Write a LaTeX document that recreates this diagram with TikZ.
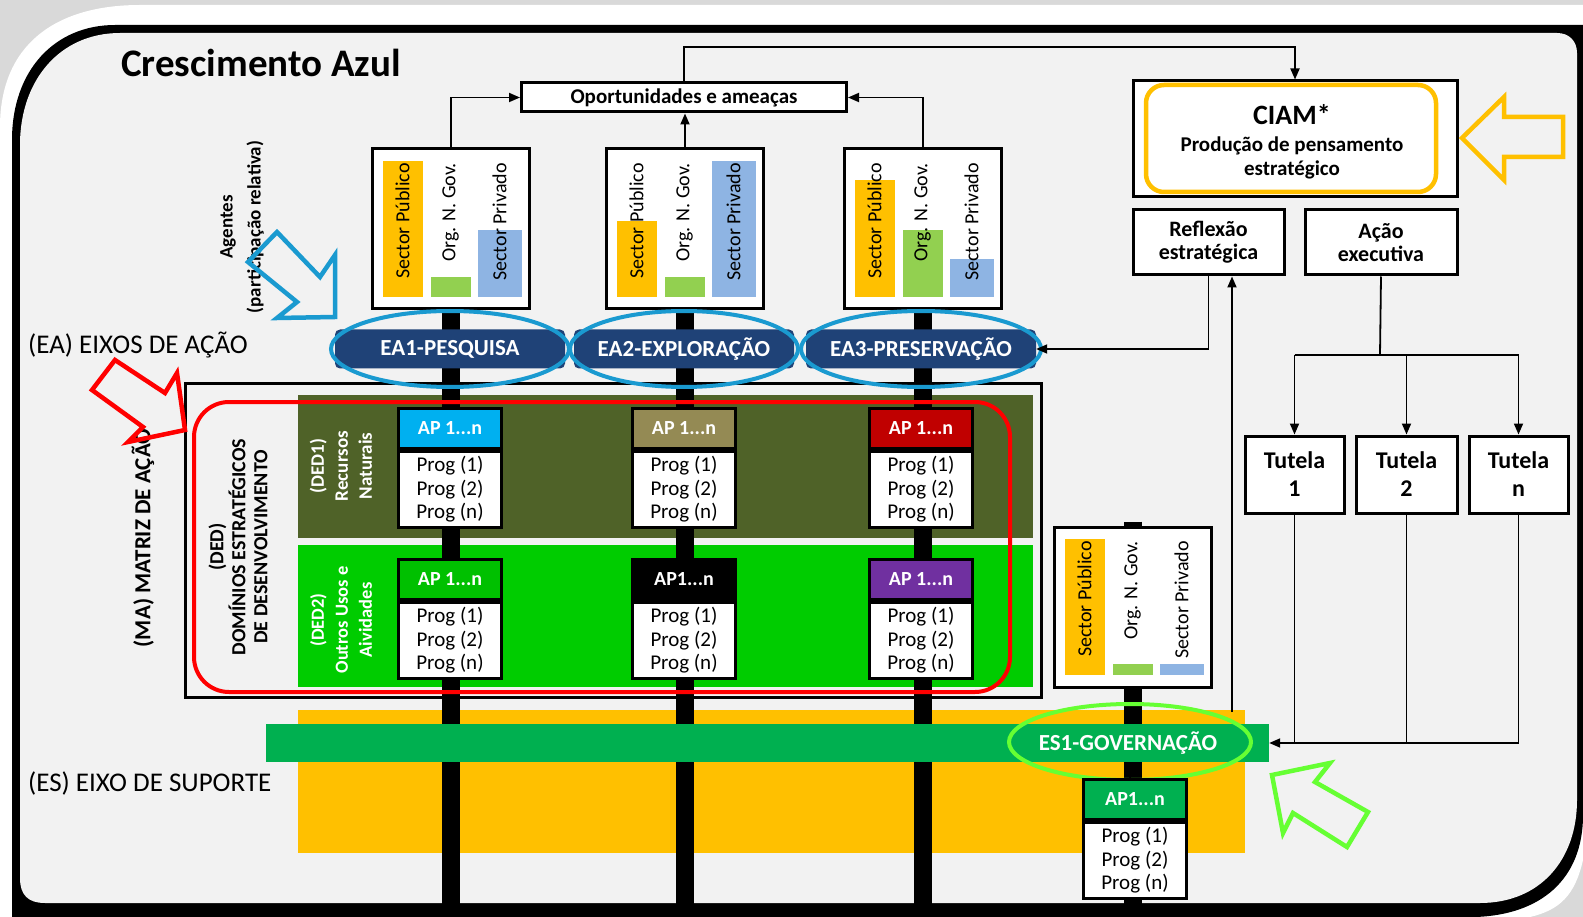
\documentclass[tikz,border=0pt]{standalone}
\usepackage{fontspec}
\setmainfont{Carlito}
\usetikzlibrary{positioning,arrows.meta,calc}

\definecolor{panel}{HTML}{F2F2F2}
\definecolor{shadowgray}{HTML}{D9D9D9}
\definecolor{eanavy}{HTML}{1F4277}
\definecolor{eablue}{HTML}{1A9AD0}
\definecolor{dedolive}{HTML}{4F6228}
\definecolor{dedgreen}{HTML}{00CC00}
\definecolor{esgreen}{HTML}{00B050}
\definecolor{esyellow}{HTML}{FFC000}
\definecolor{barorange}{HTML}{FFC000}
\definecolor{bargreen}{HTML}{92D050}
\definecolor{barblue}{HTML}{8EB4E3}
\definecolor{apcyan}{HTML}{00B0F0}
\definecolor{apolive}{HTML}{948A54}
\definecolor{apred}{HTML}{C00000}
\definecolor{apgreen}{HTML}{00C000}
\definecolor{appurple}{HTML}{7030A0}
\definecolor{govlime}{HTML}{66FF33}

\newcommand{\fsz}[2]{\fontsize{#1pt}{#2pt}\selectfont}

% one action-plan box: name, x, top, header colour, header text
\newcommand{\apbox}[5]{%
  \node[aphead, fill=#4, anchor=north] (#1h) at (#2,#3) {#5};
  \node[apbody, below=0pt of #1h] (#1b) {Prog (1)\\Prog (2)\\Prog (n)};
}

\begin{document}
\begin{tikzpicture}[x=1pt, y=-1pt,
    agentbox/.style={draw, line width=3pt, fill=white, minimum width=157pt, minimum height=160pt, inner sep=0pt},
    bartext/.style={rotate=90, anchor=east, inner sep=0pt, font=\fsz{20}{22}},
    eabar/.style={fill=eanavy, rounded corners=5pt, minimum width=230pt, minimum height=39pt, inner sep=0pt, text=white, font=\bfseries\fsz{23}{26}},
    eaoval/.style={draw=eablue, line width=4pt},
    aphead/.style={draw, line width=3pt, minimum width=103pt, minimum height=40pt, inner sep=0pt, text=white, font=\bfseries\fsz{20}{24}},
    apbody/.style={draw, line width=3pt, fill=white, minimum width=103pt, minimum height=76pt, inner sep=0pt, align=center, font=\fsz{21}{23.5}},
    sidebox/.style={draw, line width=3pt, fill=white, align=center, inner sep=0pt, font=\bfseries\fsz{22}{23}},
    tutbox/.style={sidebox, minimum height=77pt, font=\bfseries\fsz{24}{28}},
    conn/.style={line width=1.8pt, -{Triangle[length=11pt,width=9pt]}},
    link/.style={line width=1.8pt},
    axis/.style={line width=18pt},
    markarrow/.style={line width=4.5pt, line join=miter},
    lbl/.style={inner sep=0pt, font=\fsz{27}{30}},
    vlbl/.style={rotate=90, inner sep=0pt, align=center}]
\pgfdeclarelayer{bg}    % frame and bands
\pgfdeclarelayer{axes}  % the thick black axes
\pgfsetlayers{bg,axes,main}
\useasboundingbox (0,0) rectangle (1583,917);

\begin{pgfonlayer}{bg}
  % page frame
  \fill[shadowgray] (0,0) rectangle (1583,917);
  \fill[white] (0,917) -- (0,127) .. controls (0,45) and (55,5) .. (140,5) -- (1583,5) -- (1583,860) .. controls (1575,895) and (1560,910) .. (1530,917) -- cycle;
  \fill[black] (12,917) -- (12,140) .. controls (12,70) and (55,25) .. (115,25) -- (1583,25) -- (1583,815) .. controls (1583,880) and (1540,915) .. (1475,917) -- cycle;
  \fill[panel] (20,878) .. controls (20,895) and (28,903) .. (45,903) -- (1480,903) .. controls (1540,903) and (1577,860) .. (1577,800) -- (1577,53) .. controls (1577,41) and (1569,33) .. (1557,33) -- (120,33) .. controls (60,33) and (20,80) .. (20,145) -- cycle;
  % matrix and bands
  \node[draw, line width=3pt, minimum width=856pt, minimum height=313pt] (matbox) at (613,540.5) {};
  \node[fill=dedolive, minimum width=735pt, minimum height=143pt] (ded1) at (665.5,466.5) {};
  \node[fill=dedgreen, minimum width=735pt, minimum height=142pt] (ded2) at (665.5,616) {};
  \node[fill=esyellow, minimum width=947pt, minimum height=143pt] (esback) at (771.5,781.5) {};
\end{pgfonlayer}

\node[inner sep=0pt, anchor=west, font=\bfseries\fsz{39}{42}] (title) at (121,63) {Crescimento Azul};
\node[lbl, anchor=west] (ealbl) at (28,345) {(EA) EIXOS DE AÇÃO};
\node[lbl, anchor=west] (eslbl) at (28,783) {(ES) EIXO DE SUPORTE};
\node[vlbl, font=\bfseries\fsz{19}{28}] (agentes) at (242,227) {Agentes\\(participação relativa)};
\node[vlbl, font=\bfseries\fsz{23}{26}] (malbl) at (143,538) {(MA) MATRIZ DE AÇÃO};
\node[vlbl, font=\bfseries\fsz{20}{22}] (dedlbl) at (238,547) {(DED)\\DOMÍNIOS ESTRATÉGICOS\\DE DESENVOLVIMENTO};
\node[vlbl, text=white, font=\bfseries\fsz{19}{24}] (ded1lbl) at (341,466) {(DED1)\\Recursos\\Naturais};
\node[vlbl, text=white, font=\bfseries\fsz{18.5}{24}] (ded2lbl) at (341,620) {(DED2)\\Outros Usos e\\Aividades};

% agents: relative share of each sector
\foreach \n/\X/\Y/\a/\b/\c in {ag1/451/229/1/0.15/0.49, ag2/685/229/0.56/0.15/1, ag3/923/229/0.86/0.49/0.28, ag4/1133/607/1/0.08/0.08}
  {
  \node[agentbox] (\n) at (\X,\Y) {};
  \fill[barorange] ({\X-68.5},{\Y+68}) rectangle ({\X-28.5},{\Y+68-136*\a});
  \fill[bargreen] ({\X-20.5},{\Y+68}) rectangle ({\X+19.5},{\Y+68-136*\b});
  \fill[barblue] ({\X+26.5},{\Y+68}) rectangle ({\X+70.5},{\Y+68-136*\c});
  \node[bartext] (\n sp) at ({\X-48.5},{\Y-66}) {Sector Público};
  \node[bartext] (\n ong) at ({\X-0.5},{\Y-66}) {Org. N. Gov.};
  \node[bartext] (\n spr) at ({\X+48.5},{\Y-66}) {Sector Privado};
  }

\coordinate (bottomedge) at (0,917);
\begin{pgfonlayer}{axes}
  \foreach \n in {ag1,ag2,ag3}
    \draw[axis] (\n.south) -- (\n.south |- bottomedge);
  \draw[axis] ($(ag4.north)+(0,-4)$) -- (ag4.north |- bottomedge);
\end{pgfonlayer}

% opportunities and threats
\node[sidebox, minimum width=325pt, minimum height=29pt, font=\bfseries\fsz{21}{23}] (opp) at (684,97.5) {Oportunidades e ameaças};
\draw[conn] (ag1.north) |- (opp.west);
\draw[conn] (ag2.north) -- (ag2.north |- opp.south);
\draw[conn] (ag3.north) |- (opp.east);

% action axes
\node[eabar] (ea1) at (450,349) {EA1-PESQUISA};
\node[eabar, minimum width=220pt] (ea2) at (684,349) {EA2-EXPLORAÇÃO};
\node[eabar] (ea3) at (921,349) {EA3-PRESERVAÇÃO};
\draw[eaoval] (ea1.center) ellipse [x radius=119pt, y radius=38pt];
\draw[eaoval] (ea2.center) ellipse [x radius=114pt, y radius=38pt];
\draw[eaoval] (ea3.center) ellipse [x radius=120pt, y radius=38pt];

% support axis
\node[fill=esgreen, minimum width=1003pt, minimum height=38pt] (es) at (767.5,743) {};
\node[inner sep=0pt, text=white, font=\bfseries\fsz{23}{26}] (es1) at (1128,743) {ES1-GOVERNAÇÃO};
\draw[govlime, line width=4pt] (1130,742) ellipse [x radius=121pt, y radius=38pt];

% action plans
\apbox{ap11}{450}{407}{apcyan}{AP 1...n}
\apbox{ap21}{684}{407}{apolive}{AP 1...n}
\apbox{ap31}{921}{407}{apred}{AP 1...n}
\apbox{ap12}{450}{558}{apgreen}{AP 1...n}
\apbox{ap22}{684}{558}{black}{AP1...n}
\apbox{ap32}{921}{558}{appurple}{AP 1...n}
\apbox{ap4}{1135}{778}{esgreen}{AP1...n}

% CIAM side
\node[sidebox, minimum width=324pt, minimum height=116pt] (ciam) at (1295,139) {};
\node[draw=esyellow, line width=4.5pt, rounded corners=18pt, minimum width=290pt, minimum height=107pt] (ciamin) at (1291,138.5) {};
\node[align=center, inner sep=0pt, font=\bfseries\fsz{21}{24}] (ciamtxt) at (1292,142)
  {{\fsz{28}{32}CIAM*}\\[3pt]Produção de pensamento\\estratégico};
\node[sidebox, minimum width=151pt, minimum height=65pt] (refl) at (1208.5,242.5) {Reflexão\\estratégica};
\node[sidebox, minimum width=152pt, minimum height=65pt] (acao) at (1381,242.5) {Ação\\executiva};
\node[tutbox, minimum width=99pt] (tut1) at (1294.5,474.5) {Tutela\\1};
\node[tutbox, minimum width=101pt] (tut2) at (1406.5,474.5) {Tutela\\2};
\node[tutbox, minimum width=99pt] (tutn) at (1518.5,474.5) {Tutela\\n};

\coordinate (topline) at (0,47);
\draw[conn] (opp.north) -- (opp.north |- topline) -| (ciam.north);
\draw[conn] (refl.south) |- (ea3.east);
\coordinate (govup) at (1232,712);
\draw[conn] (govup) -- (govup |- refl.south);
\coordinate (tsplit) at (1380,355);
\draw[link] (acao.south) -- (tsplit);
\draw[link] (tut1.north |- tsplit) -- (tutn.north |- tsplit);
\foreach \t in {tut1,tut2,tutn}
  \draw[conn] (\t.north |- tsplit) -- (\t.north);
\draw[link] (tut1.south) -- (tut1.south |- es.east);
\draw[link] (tut2.south) -- (tut2.south |- es.east);
\draw[conn] (tutn.south) |- (es.east);

% highlight marks
\draw[red, line width=4pt, rounded corners=35pt] (194,402) rectangle (1010,692);
\draw[markarrow, eablue] (277,232) -- (320,277) -- (335,255) -- (335,317) -- (277,318) -- (297,302) -- (248,262) -- cycle;
\draw[markarrow, red] (115,360) -- (165,393) -- (177,373) -- (185,430) -- (128,442) -- (143,427) -- (92,390) -- cycle;
\draw[markarrow, esyellow] (1462,138) -- (1504,97) -- (1504,117) -- (1563,117) -- (1563,157) -- (1504,157) -- (1504,180) -- cycle;
\draw[markarrow, govlime] (1272,775) -- (1330,763) -- (1315,782) -- (1368,812) -- (1347,847) -- (1293,813) -- (1283,833) -- cycle;
\end{tikzpicture}
\end{document}
